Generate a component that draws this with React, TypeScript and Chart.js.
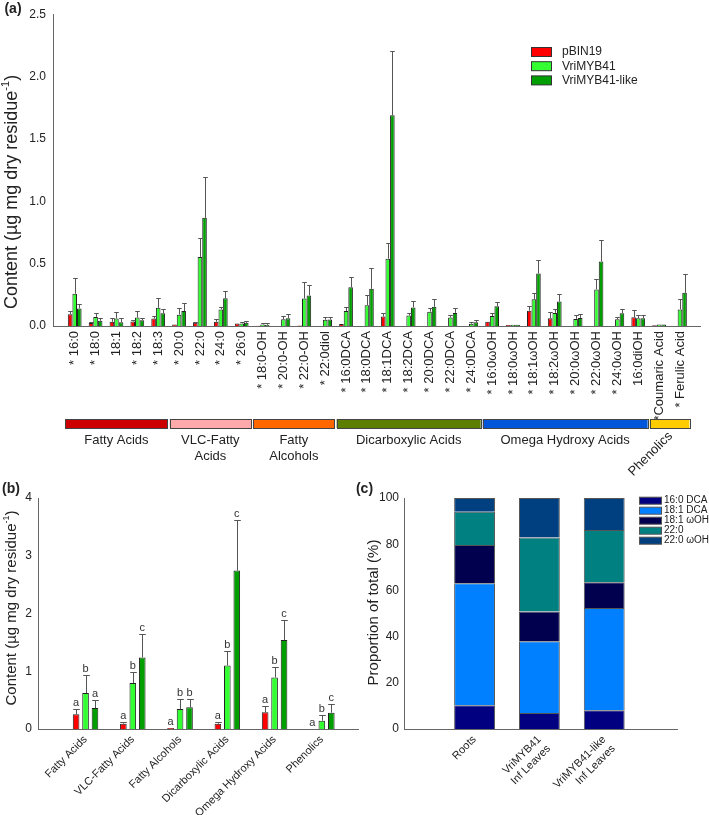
import React, { useEffect, useRef } from "react";
import { Chart, registerables } from "chart.js";
Chart.register(...registerables);

const FONT = "'Liberation Sans', Arial, Helvetica, sans-serif";
const TEXT = "#222222";
const AXIS = "#666666";
const ERR = "#555555";
Chart.defaults.font.family = FONT;
Chart.defaults.color = TEXT;

// ---------- Panel (a) data ----------
const compounds = [
  "* 16:0", "* 18:0", "18:1", "* 18:2", "* 18:3", "* 20:0", "* 22:0", "* 24:0", "* 26:0",
  "* 18:0-OH", "* 20:0-OH", "* 22:0-OH", "* 22:0diol",
  "* 16:0DCA", "* 18:0DCA", "* 18:1DCA", "* 18:2DCA", "* 20:0DCA", "* 22:0DCA", "* 24:0DCA",
  "* 16:0\u03c9OH", "* 18:0\u03c9OH", "* 18:1\u03c9OH", "* 18:2\u03c9OH", "* 20:0\u03c9OH", "* 22:0\u03c9OH", "* 24:0\u03c9OH", "16:0diOH",
  "*Coumaric Acid", "* Ferulic Acid",
];
const seriesNames = ["pBIN19", "VriMYB41", "VriMYB41-like"];
const seriesColors = ["#FF0000", "#33FF33", "#009F00"];

const pBIN19 = [0.094, 0.024, 0.034, 0.037, 0.06, 0.013, 0.026, 0.034, 0.021, 0.003, 0, 0.005, 0, 0.016, 0, 0.076, 0, 0, 0, 0, 0.034, 0.008, 0.123, 0.063, 0, 0, 0, 0.071, 0.006, 0];
const pBIN19Err = [0.029, 0.008, 0.029, 0.013, 0.021, 0, 0.005, 0.021, 0, 0, 0, 0, 0, 0, 0, 0.025, 0, 0, 0, 0, 0, 0, 0.04, 0.05, 0, 0, 0, 0.057, 0, 0];
const vri41 = [0.259, 0.073, 0.06, 0.068, 0.146, 0.091, 0.554, 0.133, 0.021, 0.013, 0.055, 0.22, 0.05, 0.12, 0.167, 0.54, 0.084, 0.115, 0.068, 0.018, 0.08, 0.01, 0.214, 0.105, 0.057, 0.293, 0.055, 0.063, 0.012, 0.133];
const vri41Err = [0.125, 0.035, 0.055, 0.052, 0.079, 0.05, 0.151, 0.021, 0.008, 0.011, 0.026, 0.135, 0.026, 0.029, 0.078, 0.126, 0.023, 0.031, 0.021, 0.012, 0.027, 0, 0.05, 0.029, 0.032, 0.086, 0.016, 0.023, 0, 0.081];
const vri41like = [0.141, 0.042, 0.031, 0.047, 0.102, 0.12, 0.867, 0.222, 0.026, 0.01, 0.063, 0.245, 0.052, 0.311, 0.298, 1.69, 0.149, 0.154, 0.105, 0.03, 0.159, 0.01, 0.42, 0.196, 0.065, 0.517, 0.102, 0.063, 0.012, 0.266];
const vri41likeErr = [0.037, 0.021, 0.032, 0.021, 0.031, 0.063, 0.327, 0.06, 0.013, 0.011, 0.037, 0.082, 0.024, 0.083, 0.17, 0.512, 0.052, 0.063, 0.036, 0.015, 0.031, 0, 0.11, 0.063, 0.032, 0.17, 0.034, 0.023, 0, 0.149];
const yTicksA = [0, 0.5, 1.0, 1.5, 2.0, 2.5];

// compound classes under panel (a)
const classLabels = [["Fatty Acids"], ["VLC-Fatty", "Acids"], ["Fatty", "Alcohols"], ["Dicarboxylic Acids"], ["Omega Hydroxy Acids"], ["Phenolics"]];
const classStart = [0, 5, 9, 13, 20, 28];
const classEnd = [4, 8, 12, 19, 27, 29];
const classColors = ["#CC0000", "#FFAAAA", "#FF6600", "#5E7E00", "#0055D8", "#FFCC00"];

// ---------- Panel (b) data ----------
const classNamesB = ["Fatty Acids", "VLC-Fatty Acids", "Fatty Alcohols", "Dicarboxylic Acids", "Omega Hydroxy Acids", "Phenolics"];
const bP = [0.254, 0.092, 0.017, 0.092, 0.288, 0];
const bPErr = [0.092, 0.035, 0, 0.035, 0.104, 0];
const bA = [0.622, 0.795, 0.346, 1.10, 0.893, 0.144];
const bAErr = [0.306, 0.196, 0.167, 0.243, 0.173, 0.092];
const bL = [0.363, 1.239, 0.375, 2.743, 1.539, 0.282];
const bLErr = [0.133, 0.409, 0.138, 0.877, 0.346, 0.156];
const bPLetters = ["a", "a", "a", "a", "a", "a"];
const bALetters = ["b", "b", "b", "b", "b", "b"];
const bLLetters = ["a", "c", "b", "c", "c", "c"];
const yTicksB = [0, 1, 2, 3, 4];

// ---------- Panel (c) data ----------
const samplesC = [["Roots"], ["VriMYB41", "Inf Leaves"], ["VriMYB41-like", "Inf Leaves"]];
const componentsC = ["16:0 DCA", "18:1 DCA", "18:1 \u03c9OH", "22:0", "22:0 \u03c9OH"];
const componentColors = ["#000080", "#0080FF", "#00004F", "#008080", "#004080"];
const rootsPct = [10.3, 52.8, 16.6, 14.3, 6.0];
const vri41Pct = [6.9, 31.1, 12.9, 32.0, 17.1];
const vri41likePct = [8.1, 44.3, 11.1, 22.7, 13.8];
const yTicksC = [0, 20, 40, 60, 80, 100];

// ---------- helpers ----------
function drawYTitle(ctx: CanvasRenderingContext2D, cx: number, cy: number, size: number, main: string, sup: string, tail: string) {
  ctx.save();
  ctx.translate(cx, cy);
  ctx.rotate(-Math.PI / 2);
  const f = `${size}px ${FONT}`;
  const fs = `${Math.round(size * 0.62)}px ${FONT}`;
  ctx.font = f;
  const w1 = ctx.measureText(main).width;
  const w3 = ctx.measureText(tail).width;
  ctx.font = fs;
  const w2 = sup ? ctx.measureText(sup).width : 0;
  let x = -(w1 + w2 + w3) / 2;
  ctx.textBaseline = "middle";
  ctx.textAlign = "left";
  ctx.fillStyle = TEXT;
  ctx.font = f;
  ctx.fillText(main, x, 0);
  x += w1;
  if (sup) {
    ctx.font = fs;
    ctx.fillText(sup, x, -size * 0.36);
    x += w2;
  }
  ctx.font = f;
  ctx.fillText(tail, x, 0);
  ctx.restore();
}

function drawText(ctx: CanvasRenderingContext2D, text: string, x: number, y: number, font: string, align: CanvasTextAlign = "center", rot = 0) {
  ctx.save();
  ctx.translate(x, y);
  if (rot) ctx.rotate(rot);
  ctx.font = font;
  ctx.fillStyle = TEXT;
  ctx.textAlign = align;
  ctx.textBaseline = "middle";
  ctx.fillText(text, 0, 0);
  ctx.restore();
}

const errorBarPlugin = {
  id: "errbars",
  afterDatasetsDraw(chart: any) {
    const ctx = chart.ctx as CanvasRenderingContext2D;
    const ys = chart.scales.y;
    chart.data.datasets.forEach((ds: any, i: number) => {
      if (!ds.errs) return;
      const meta = chart.getDatasetMeta(i);
      meta.data.forEach((el: any, j: number) => {
        const v = ds.data[j].y;
        const e = ds.errs[j] || 0;
        const x = Math.round(el.x) + 0.5;
        const half = el.width / 2;
        let top = el.y;
        if (e > 0) {
          const yTop = Math.round(ys.getPixelForValue(v + e)) + 0.5;
          ctx.save();
          ctx.strokeStyle = ERR;
          ctx.lineWidth = 1;
          ctx.beginPath();
          ctx.moveTo(x, el.y);
          ctx.lineTo(x, yTop);
          ctx.moveTo(x - half, yTop);
          ctx.lineTo(x + half, yTop);
          ctx.stroke();
          ctx.restore();
          top = yTop;
        }
        if (ds.letters) {
          ctx.save();
          ctx.font = `11px ${FONT}`;
          ctx.fillStyle = "#333";
          ctx.textAlign = "center";
          ctx.textBaseline = "bottom";
          ctx.fillText(ds.letters[j], el.x, top - 1);
          ctx.restore();
        }
      });
    });
  },
};

function barDataset(label: string, vals: number[], errs: number[], color: string, catPct: number, barPct: number, letters?: string[]) {
  return {
    label,
    data: vals.map((v, i) => ({ x: i, y: v })),
    errs,
    letters,
    backgroundColor: color,
    borderColor: "#222",
    borderWidth: 1,
    categoryPercentage: catPct,
    barPercentage: barPct,
  } as any;
}

function makeA(canvas: HTMLCanvasElement) {
  const annot = {
    id: "annotA",
    afterDraw(chart: any) {
      const ctx = chart.ctx as CanvasRenderingContext2D;
      const xs = chart.scales.x;
      const step = xs.getPixelForValue(1) - xs.getPixelForValue(0);
      classLabels.forEach((lab, k) => {
        const l = xs.getPixelForValue(classStart[k]) - 0.45 * step;
        const r = xs.getPixelForValue(classEnd[k]) + 0.45 * step;
        ctx.save();
        ctx.fillStyle = classColors[k];
        ctx.fillRect(l, 419, r - l, 9);
        ctx.strokeStyle = "#444";
        ctx.lineWidth = 1;
        ctx.strokeRect(Math.round(l) + 0.5, 419.5, Math.round(r - l), 9);
        ctx.restore();
        const cx = (l + r) / 2;
        if (k === classLabels.length - 1) {
          drawText(ctx, lab[0], cx - 19, 454, `13px ${FONT}`, "center", -Math.PI / 4);
        } else {
          lab.forEach((line, li) => drawText(ctx, line, cx, 440 + li * 16, `13px ${FONT}`));
        }
      });
      seriesNames.forEach((name, k) => {
        const cy = 52 + k * 14.2;
        ctx.save();
        ctx.fillStyle = seriesColors[k];
        ctx.fillRect(531, cy - 4.5, 20, 9);
        ctx.strokeStyle = "#333";
        ctx.lineWidth = 1;
        ctx.strokeRect(531.5, cy - 4.5, 20, 9);
        ctx.restore();
        drawText(ctx, name, 562, cy, `12px ${FONT}`, "left");
      });
      drawText(ctx, "(a)", 13, 9, `bold 14px ${FONT}`);
      drawYTitle(ctx, 12, 192, 18, "Content (\u00b5g mg dry residue", "-1", ")");
    },
  };
  return new Chart(canvas, {
    type: "bar",
    data: {
      datasets: [
        barDataset(seriesNames[0], pBIN19, pBIN19Err, seriesColors[0], 0.66, 1),
        barDataset(seriesNames[1], vri41, vri41Err, seriesColors[1], 0.66, 1),
        barDataset(seriesNames[2], vri41like, vri41likeErr, seriesColors[2], 0.66, 1),
      ],
    },
    options: {
      animation: false,
      responsive: false,
      maintainAspectRatio: false,
      layout: { padding: { left: 0, right: 9, top: 7, bottom: 0 } },
      plugins: { legend: { display: false }, tooltip: { enabled: false } },
      scales: {
        x: {
          type: "linear",
          offset: false,
          min: -1.04,
          max: 29.96,
          grid: { display: false, drawTicks: false, offset: false },
          border: { display: true, color: AXIS },
          afterBuildTicks: (s: any) => {
            s.ticks = compounds.map((_, i) => ({ value: i }));
          },
          afterFit: (s: any) => {
            s.height = 154;
          },
          ticks: {
            autoSkip: false,
            minRotation: 90,
            maxRotation: 90,
            padding: 5,
            color: TEXT,
            font: { size: 13 },
            callback: (v: any) => compounds[v] ?? "",
          },
        },
        y: {
          min: 0,
          max: 2.5,
          grid: { display: false, drawTicks: false },
          border: { display: true, color: AXIS },
          afterBuildTicks: (s: any) => {
            s.ticks = yTicksA.map((v) => ({ value: v }));
          },
          afterFit: (s: any) => {
            s.width = 53;
          },
          ticks: { padding: 7, color: TEXT, font: { size: 12 }, callback: (v: any) => Number(v).toFixed(1) },
        },
      },
    } as any,
    plugins: [errorBarPlugin, annot],
  });
}

function makeB(canvas: HTMLCanvasElement) {
  const annot = {
    id: "annotB",
    afterDraw(chart: any) {
      const ctx = chart.ctx as CanvasRenderingContext2D;
      drawText(ctx, "(b)", 11, 19, `bold 14px ${FONT}`);
      drawYTitle(ctx, 12, 138, 15, "Content (\u00b5g mg dry residue", "-1", ")");
    },
  };
  return new Chart(canvas, {
    type: "bar",
    data: {
      datasets: [
        barDataset(seriesNames[0], bP, bPErr, seriesColors[0], 0.6, 0.7, bPLetters),
        barDataset(seriesNames[1], bA, bAErr, seriesColors[1], 0.6, 0.7, bALetters),
        barDataset(seriesNames[2], bL, bLErr, seriesColors[2], 0.6, 0.7, bLLetters),
      ],
    },
    options: {
      animation: false,
      responsive: false,
      maintainAspectRatio: false,
      layout: { padding: { left: 0, right: 2, top: 28, bottom: 0 } },
      plugins: { legend: { display: false }, tooltip: { enabled: false } },
      scales: {
        x: {
          type: "linear",
          offset: false,
          min: -1.006,
          max: 5.765,
          grid: { display: false, drawTicks: false, offset: false },
          border: { display: true, color: AXIS },
          afterBuildTicks: (s: any) => {
            s.ticks = classNamesB.map((_, i) => ({ value: i }));
          },
          afterFit: (s: any) => {
            s.height = 86;
          },
          ticks: {
            autoSkip: false,
            minRotation: 45,
            maxRotation: 45,
            padding: 4,
            color: TEXT,
            font: { size: 11 },
            callback: (v: any) => classNamesB[v] ?? "",
          },
        },
        y: {
          min: 0,
          max: 4,
          grid: { display: false, drawTicks: false },
          border: { display: true, color: AXIS },
          afterBuildTicks: (s: any) => {
            s.ticks = yTicksB.map((v) => ({ value: v }));
          },
          afterFit: (s: any) => {
            s.width = 38;
          },
          ticks: { padding: 6, color: TEXT, font: { size: 12 } },
        },
      },
    } as any,
    plugins: [errorBarPlugin, annot],
  });
}

function makeC(canvas: HTMLCanvasElement) {
  const samples = [rootsPct, vri41Pct, vri41likePct];
  const annot = {
    id: "annotC",
    afterDraw(chart: any) {
      const ctx = chart.ctx as CanvasRenderingContext2D;
      componentsC.forEach((name, k) => {
        const cy = 30.7 + k * 10;
        ctx.save();
        ctx.fillStyle = componentColors[k];
        ctx.fillRect(289, cy - 3.5, 22, 7);
        ctx.strokeStyle = "#555";
        ctx.lineWidth = 1;
        ctx.strokeRect(289.5, cy - 3.5, 22, 7);
        ctx.restore();
        drawText(ctx, name, 314, cy, `10px ${FONT}`, "left");
      });
      drawText(ctx, "(c)", 14.5, 19, `bold 14px ${FONT}`);
      drawYTitle(ctx, 23.5, 142.5, 15, "Proportion of total (%)", "", "");
    },
  };
  return new Chart(canvas, {
    type: "bar",
    data: {
      datasets: componentsC.map((name, k) => ({
        label: name,
        data: samples.map((arr, i) => ({ x: i, y: arr[k] })),
        backgroundColor: componentColors[k],
        borderColor: "#555",
        borderWidth: 1,
        categoryPercentage: 0.63,
        barPercentage: 1,
      })) as any,
    },
    options: {
      animation: false,
      responsive: false,
      maintainAspectRatio: false,
      layout: { padding: { left: 0, right: 32, top: 28, bottom: 0 } },
      plugins: { legend: { display: false }, tooltip: { enabled: false } },
      scales: {
        x: {
          type: "linear",
          offset: false,
          stacked: true,
          min: -1.088,
          max: 3.122,
          grid: { display: false, drawTicks: false, offset: false },
          border: { display: true, color: AXIS },
          afterBuildTicks: (s: any) => {
            s.ticks = samplesC.map((_, i) => ({ value: i }));
          },
          afterFit: (s: any) => {
            s.height = 86;
          },
          ticks: {
            autoSkip: false,
            minRotation: 45,
            maxRotation: 45,
            padding: 4,
            color: TEXT,
            font: { size: 11 },
            callback: (v: any) => samplesC[v] ?? "",
          },
        },
        y: {
          stacked: true,
          min: 0,
          max: 100,
          grid: { display: false, drawTicks: false },
          border: { display: true, color: AXIS },
          afterBuildTicks: (s: any) => {
            s.ticks = yTicksC.map((v) => ({ value: v }));
          },
          afterFit: (s: any) => {
            s.width = 54;
          },
          ticks: { padding: 5, color: TEXT, font: { size: 12 } },
        },
      },
    } as any,
    plugins: [annot],
  });
}

export default function App() {
  const ra = useRef<HTMLCanvasElement>(null);
  const rb = useRef<HTMLCanvasElement>(null);
  const rc = useRef<HTMLCanvasElement>(null);
  useEffect(() => {
    const a = makeA(ra.current!);
    const b = makeB(rb.current!);
    const c = makeC(rc.current!);
    return () => {
      a.destroy();
      b.destroy();
      c.destroy();
    };
  }, []);
  return (
    <div style={{ position: "absolute", left: 0, top: 0, width: 709, height: 815, background: "#fff", overflow: "hidden" }}>
      <canvas ref={ra} width={709} height={480} style={{ position: "absolute", left: 0, top: 0, width: 709, height: 480 }} />
      <canvas ref={rb} width={360} height={345} style={{ position: "absolute", left: 0, top: 470, width: 360, height: 345 }} />
      <canvas ref={rc} width={359} height={345} style={{ position: "absolute", left: 350, top: 470, width: 359, height: 345 }} />
    </div>
  );
}
